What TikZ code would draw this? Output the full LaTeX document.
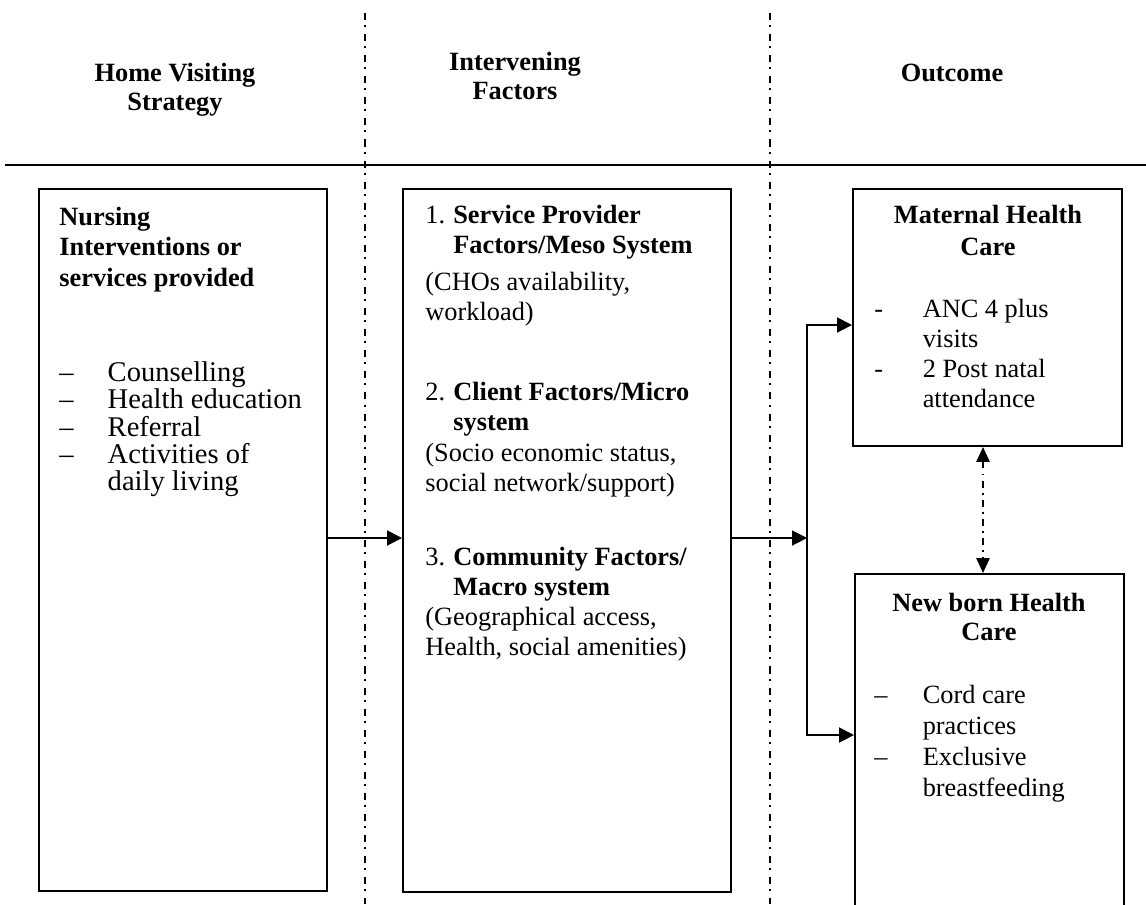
\documentclass[tikz,border=0pt]{standalone}
\usepackage{fontspec}
\setmainfont{Liberation Serif}
\usepackage{tikz}
\usetikzlibrary{arrows.meta, fit, calc}

\newcommand{\dashitem}[2]{\makebox[22pt][l]{#1}#2}
\newcommand{\hangin}{\hspace*{22pt}}
\newcommand{\numitem}[2]{\makebox[12.7pt][l]{#1}\textbf{#2}}
\newcommand{\numhang}{\hspace*{12.7pt}}

\tikzset{
    box/.style={draw, line width=0.9pt, inner sep=0pt},
    link/.style={line width=0.9pt, -{Triangle[length=6.8pt, width=6.8pt]}},
    twoway/.style={line width=0.9pt, {Triangle[length=6.8pt, width=6pt]}-{Triangle[length=6.8pt, width=6pt]},
        dash pattern=on 3.2pt off 2.3pt on 0.9pt off 2.3pt},
    divider/.style={line width=0.6pt, dash pattern=on 3.2pt off 2.3pt on 0.9pt off 3.2pt},
    colhead/.style={font=\fontsize{12}{13.2}\selectfont\bfseries, align=center, anchor=base, inner sep=0pt},
    txt/.style={font=\fontsize{12}{13.6}\selectfont, align=left, anchor=base west, inner sep=0pt},
}

\begin{document}
\begin{tikzpicture}[x=0.016cm, y=-0.016cm]
    \useasboundingbox (0,0) rectangle (1146,904);

    % Column Dividers and Rule
    \draw[divider] (365,13) -- (365,904);
    \draw[divider] (770,13) -- (770,904);
    \draw[line width=1.2pt] (5,165) -- (1146,165);

    % Column Titles (anchored on the last line)
    \node[colhead] (hvstitle) at (175,110) {Home Visiting\\Strategy};
    \node[colhead] (ifactitle) at (515,99) {Intervening\\Factors};
    \node[colhead] (outtitle) at (952,81) {Outcome};

    % The Boxes
    \node[box, fit={(39,189) (327,891)}] (hvs) {};
    \node[box, fit={(403,189) (731,892)}] (ifac) {};
    \node[box, fit={(853,189) (1122,446)}] (mhc) {};
    \node[box, fit={(855,574) (1124,940)}] (nhc) {};

    % Home Visiting Strategy
    \node[txt, font=\fontsize{12}{13.8}\selectfont\bfseries] (hvshead) at (59,286)
        {Nursing\\Interventions or\\services provided};
    \node[txt, font=\fontsize{13}{12.3}\selectfont] (hvslist) at (59,490)
        {\dashitem{--}{Counselling}\\\dashitem{--}{Health education}\\\dashitem{--}{Referral}\\
         \dashitem{--}{Activities of}\\\hangin daily living};

    % Intervening Factors
    \node[txt] (prov) at (425,253) {\numitem{1.}{Service Provider}\\\numhang\textbf{Factors/Meso System}};
    \node[txt] (provtxt) at (425,320) {(CHOs availability,\\workload)};
    \node[txt] (client) at (425,430) {\numitem{2.}{Client Factors/Micro}\\\numhang\textbf{system}};
    \node[txt] (clienttxt) at (425,491) {(Socio economic status,\\social network/support)};
    \node[txt] (comm) at (425,595) {\numitem{3.}{Community Factors/}\\\numhang\textbf{Macro system}};
    \node[txt] (commtxt) at (425,655) {(Geographical access,\\Health, social amenities)};

    % Outcome
    \node[colhead, font=\fontsize{12}{14.4}\selectfont\bfseries] (mhchead) at (988,255) {Maternal Health\\Care};
    \node[txt] (mhclist) at (874,407)
        {\dashitem{-}{ANC 4 plus}\\\hangin visits\\\dashitem{-}{2 Post natal}\\\hangin attendance};
    \node[colhead] (nhchead) at (989,640) {New born Health\\Care};
    \node[txt, font=\fontsize{12}{14}\selectfont] (nhclist) at (874,796)
        {\dashitem{--}{Cord care}\\\hangin practices\\\dashitem{--}{Exclusive}\\\hangin breastfeeding};

    % Connectors
    \coordinate (split) at (807,538);
    \draw[link] (hvs.east |- split) -- (ifac.west |- split);
    \draw[link] (ifac.east |- split) -- (split);
    \draw[link] (split) |- (mhc.west |- 0,325);
    \draw[link] (split) |- (nhc.west |- 0,735);
    \draw[twoway] (mhc.south -| 983,0) -- (nhc.north -| 983,0);
\end{tikzpicture}
\end{document}
